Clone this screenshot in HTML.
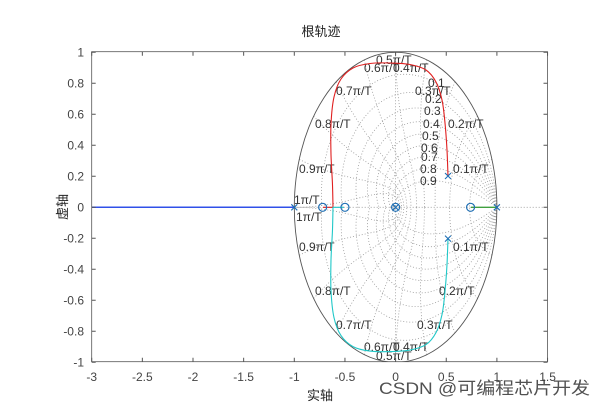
<!DOCTYPE html>
<html><head><meta charset="utf-8"><style>
body{margin:0;background:#fff;width:606px;height:408px;overflow:hidden}
svg text{font-family:"Liberation Sans","Noto Sans CJK SC",sans-serif}
</style></head><body>
<svg id="s" width="606" height="408" xmlns="http://www.w3.org/2000/svg">
<rect x="0" y="0" width="606" height="408" fill="#fff"/>
<defs><clipPath id="c"><rect x="91.7" y="51.7" width="455.8" height="310"/></clipPath></defs>
<g id="grid" clip-path="url(#c)" fill="none" stroke="#999" stroke-width="0.8" stroke-dasharray="1,2"></g>
<g id="lab" font-size="12" fill="#333"></g>
<g id="loc" fill="none" stroke-width="1.1"></g>
<rect x="91.7" y="51.7" width="455.8" height="310" fill="none" stroke="#555" stroke-width="0.8"/>
<g id="ax" font-size="12" fill="#444"></g>
<text x="321" y="36" font-size="13" text-anchor="middle" fill="#222">根轨迹</text>
<text x="320" y="400" font-size="13" text-anchor="middle" fill="#222">实轴</text>
<text x="0" y="0" font-size="13" text-anchor="middle" fill="#222" transform="translate(67,207) rotate(-90)">虚轴</text>
<text x="379" y="394" font-size="17" fill="#333" opacity="0.85" textLength="211" lengthAdjust="spacingAndGlyphs">CSDN @可编程芯片开发</text>
</svg>
<script>
const NS="http://www.w3.org/2000/svg";
const X=x=>395.6+101.3*x, Y=y=>207.3-155*y;
function el(p,t,a,txt){const e=document.createElementNS(NS,t);for(const k in a)e.setAttribute(k,a[k]);if(txt!==undefined)e.textContent=txt;document.getElementById(p).appendChild(e);return e;}
function path(p,pts,a){let d=pts.map((q,i)=>(i?'L':'M')+X(q[0]).toFixed(1)+','+Y(q[1]).toFixed(1)).join('');a.d=d;return el(p,'path',a);}
path('grid',[[-3,0],[1.5,0]],{});
path('grid',[[0,-1],[0,1]],{});
for(let z=0.1;z<0.95;z+=0.1){let pts=[],pts2=[];const k=z/Math.sqrt(1-z*z);
for(let i=0;i<=200;i++){const th=Math.PI*i/200,r=Math.exp(-k*th);pts.push([r*Math.cos(th),r*Math.sin(th)]);pts2.push([r*Math.cos(th),-r*Math.sin(th)]);}
path('grid',pts,{});path('grid',pts2,{});}
for(let n=1;n<=10;n++){const wn=n*Math.PI/10;let pts=[],pts2=[];
for(let i=0;i<=200;i++){const z=i/200;const re=-z*wn,im=wn*Math.sqrt(1-z*z);if(im>Math.PI)continue;const r=Math.exp(re);pts.push([r*Math.cos(im),r*Math.sin(im)]);pts2.push([r*Math.cos(im),-r*Math.sin(im)]);}
path('grid',pts,{});path('grid',pts2,{});}
el('grid','ellipse',{cx:X(0),cy:Y(0),rx:101.3,ry:155,stroke:'#555','stroke-dasharray':'none','stroke-width':0.9});
const L=[['0.5π/T',376,64],['0.6π/T',364,72],['0.4π/T',393,72],['0.7π/T',336,95],['0.3π/T',415,95],['0.8π/T',315,128],['0.2π/T',448,128],['0.9π/T',299,173],['0.1π/T',453,173],['1π/T',294,204],['1π/T',296,221],
['0.9π/T',299,251],['0.1π/T',453,251],['0.8π/T',315,295],['0.2π/T',439,295],['0.7π/T',336,329],['0.3π/T',417,329],['0.6π/T',364,351],['0.4π/T',393,351],['0.5π/T',376,360],
['0.1',428,87],['0.2',425,103],['0.3',424,115],['0.4',423,128],['0.5',422,140],['0.6',421,152],['0.7',421,161],['0.8',420,173],['0.9',420,185]];
L.forEach(l=>el('lab','text',{x:l[1],y:l[2]},l[0]));
function spline(P){let d='M'+P[0][0]+','+P[0][1];for(let i=0;i<P.length-1;i++){const p0=P[i-1]||P[i],p1=P[i],p2=P[i+1],p3=P[i+2]||p2;
const c1=[p1[0]+(p2[0]-p0[0])/6,p1[1]+(p2[1]-p0[1])/6],c2=[p2[0]-(p3[0]-p1[0])/6,p2[1]-(p3[1]-p1[1])/6];
d+=`C${c1[0].toFixed(1)},${c1[1].toFixed(1)} ${c2[0].toFixed(1)},${c2[1].toFixed(1)} ${p2[0]},${p2[1]}`;}return d;}
const red=[[448,176],[447,150],[445,123],[442,100],[436,82],[426,70],[410,64.5],[390,63],[370,63.5],[353,68],[341,79],[334,97],[331,124],[331,155],[332.5,185],[333,207.3]];
el('loc','path',{d:spline(red)+'L323,207.3',stroke:'#e02020'});
const cy=red.map(p=>[p[0],+(414.6-p[1]).toFixed(1)]);
el('loc','path',{d:spline(cy)+'L344,207.3',stroke:'#20c8c8'});
el('loc','path',{d:'M91.7,207.3L294,207.3',stroke:'#3050e8','stroke-width':1.5});
el('loc','path',{d:'M471,207.3L497,207.3',stroke:'#40a040','stroke-width':1.3});
const C='#1f6fb4';
[[X(-1),207.3],[X(1),207.3],[448,176],[448,238.6],[X(0),207.3]].forEach(p=>{el('loc','path',{d:`M${p[0]-3},${p[1]-3}L${p[0]+3},${p[1]+3}M${p[0]-3},${p[1]+3}L${p[0]+3},${p[1]-3}`,stroke:C});});
[[X(-0.72),207.3],[X(-0.5),207.3],[X(0),207.3],[X(0.74),207.3]].forEach(p=>el('loc','circle',{cx:p[0],cy:p[1],r:4,stroke:C,'stroke-width':1.2}));
for(let i=0;i<=9;i++){const v=-3+0.5*i,x=X(v);el('ax','path',{d:`M${x},361.7v-4M${x},51.7v4`,stroke:'#555'});el('ax','text',{x:x,y:381,'text-anchor':'middle'},String(v));}
for(let i=0;i<=10;i++){const v=Math.round((-1+0.2*i)*10)/10,y=Y(v);el('ax','path',{d:`M91.7,${y}h4M547.5,${y}h-4`,stroke:'#555'});el('ax','text',{x:84,y:y+4,'text-anchor':'end'},String(v));}
</script>
</body></html>
